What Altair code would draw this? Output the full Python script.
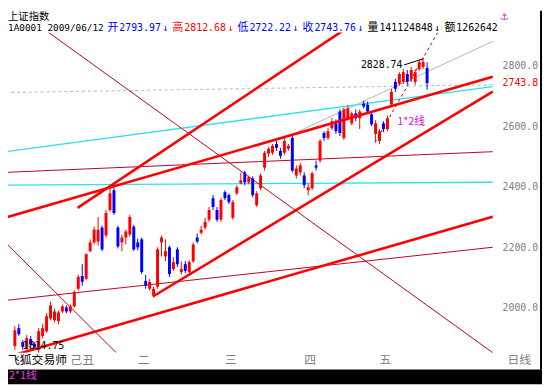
import altair as alt
import pandas as pd

# ---------------- data ----------------
opens = [1876,1935,1889,1870,1899,1883,1863,1909,1925,1967,
         1961,1958,1990,2003,1990,2007,2065,2107,2098,2189,
         2218,2221,2267,2241,2325,2390,2267,2218,2234,2244,
         2270,2218,2228,2091,2065,2042,2072,2218,2172,2202,
         2130,2195,2120,2146,2120,2156,2234,2250,2267,2293,
         2364,2325,2293,2384,2374,2299,2380,2413,2449,2416,
         2429,2341,2397,2465,2511,2514,2543,2520,2514,2527,
         2563,2439,2449,2439,2390,2397,2472,2488,2579,2563,
         2595,2611,2650,2563,2628,2611,2644,2628,2676,2673,
         2641,2576,2553,2611,2592,2673,2748,2741,2748,2774,
         2758,2748,2790,2797,2793.97]
closes = [1928,1915,1873,1902,1880,1873,1925,1935,1974,2010,
          1990,1987,2007,1990,2007,2055,2104,2088,2179,2218,
          2260,2260,2195,2315,2380,2315,2205,2234,2254,2302,
          2195,2202,2120,2075,2088,2065,2195,2234,2189,2114,
          2153,2146,2130,2124,2153,2211,2221,2260,2286,2325,
          2335,2293,2358,2364,2351,2351,2400,2423,2416,2433,
          2374,2380,2439,2514,2527,2537,2530,2504,2553,2537,
          2455,2462,2472,2407,2400,2446,2465,2553,2563,2585,
          2618,2585,2579,2657,2660,2644,2628,2650,2667,2650,
          2608,2611,2585,2592,2628,2715,2725,2774,2780,2748,
          2787,2780,2813,2813,2743.76]
highs = [1941,1948,1896,1912,1909,1889,1935,1948,1984,2023,
         2000,1993,2013,2010,2013,2059,2111,2146,2182,2228,
         2270,2302,2273,2325,2397,2403,2273,2244,2260,2309,
         2276,2231,2234,2111,2098,2072,2202,2241,2228,2208,
         2169,2202,2156,2156,2159,2218,2247,2273,2299,2335,
         2374,2335,2364,2390,2380,2358,2407,2449,2455,2439,
         2436,2387,2446,2520,2533,2543,2553,2530,2563,2543,
         2569,2472,2481,2449,2413,2452,2488,2559,2585,2595,
         2628,2624,2657,2663,2670,2650,2657,2657,2686,2683,
         2650,2621,2592,2618,2637,2725,2758,2780,2790,2787,
         2797,2790,2820,2828.74,2812.68]
lows = [1863,1909,1863,1863,1870,1867,1854,1902,1919,1961,
        1954,1948,1984,1984,1984,2003,2059,2075,2094,2185,
        2211,2208,2189,2234,2319,2309,2198,2189,2211,2237,
        2189,2192,2114,2065,2059,2036,2065,2172,2156,2104,
        2124,2137,2111,2117,2114,2150,2215,2244,2260,2286,
        2325,2286,2286,2358,2345,2293,2374,2410,2407,2410,
        2367,2335,2390,2455,2501,2507,2520,2494,2507,2520,
        2449,2429,2439,2397,2374,2390,2455,2481,2553,2556,
        2589,2576,2569,2556,2621,2605,2618,2592,2660,2644,
        2602,2550,2543,2582,2585,2667,2715,2735,2741,2738,
        2748,2738,2784,2790,2722.22]

month_labels = ["己丑", "二", "三", "四", "五"]
month_start = [14, 31, 53, 73, 92]

y_ticks = [2000, 2200, 2400, 2600, 2800]

# drawn trend lines: (x1, y1, x2, y2) in (bar index, index value)
thick_red_lines = [(15.83, 2332.1, 82.81, 2917.5),
                   (-2.435, 2299.6, 120.56, 2764.6),
                   (34.83, 2039.4, 120.56, 2715.9),
                   (-2.435, 1837.7, 120.56, 2302.8)]
thin_red_lines = [(8.52, 2911.0, 120.56, 1854.0),
                  (-2.435, 2218.3, 25.57, 1854.0),
                  (-2.435, 2449.2, 120.56, 2517.5),
                  (-2.435, 2026.4, 120.56, 2202.0)]
cyan_lines = [(-2.435, 2406.9, 120.56, 2416.6),
              (-2.435, 2517.5, 120.56, 2732.1)]
blue_dash_lines = [(-2.435, 2712.6, 120.56, 2738.6)]
gray_lines = [(69.65, 2572.8, 120.56, 2881.7)]
dark_dash_lines = [(90.84, 2546.7, 106.67, 2911.0)]
leader_lines = [(98.15, 2803.7, 102.8, 2823.2)]

high_label = "2828.74"
low_label = "1814.75"
last_close = 2743.76

# ---------------- layout (page has an 8px margin) ----------------
M = 8            # page margin
TOP = 30         # page y of plot top
W, H = 497, 325  # plot area: page x 8..505, y 30..355
X_DOMAIN = [-0.487, 120.56]
Y_DOMAIN = [1854, 2911]
xs = alt.Scale(domain=X_DOMAIN, nice=False, zero=False)
ys = alt.Scale(domain=Y_DOMAIN, nice=False, zero=False)
MONO = "DejaVu Sans Mono"
CJK = "Noto Sans CJK SC"
dummy = pd.DataFrame({"a": [0]})

df = pd.DataFrame({"i": list(range(len(opens))), "open": opens, "high": highs,
                   "low": lows, "close": closes})
df["col"] = ["#ff0000" if c >= o else "#0000ff" for o, c in zip(opens, closes)]

base = alt.Chart(df).encode(x=alt.X("i:Q", scale=xs, axis=None),
                            color=alt.Color("col:N", scale=None))
wicks = base.mark_rule(strokeWidth=1).encode(
    y=alt.Y("low:Q", scale=ys, axis=None), y2="high:Q")
bodies = base.mark_bar(size=3).encode(
    y=alt.Y("open:Q", scale=ys, axis=None), y2="close:Q")


def seg_chart(lines, color, width, dash=None):
    rows = []
    for k, (x1, y1, x2, y2) in enumerate(lines):
        rows.append({"k": k, "x": x1, "y": y1})
        rows.append({"k": k, "x": x2, "y": y2})
    kw = dict(clip=True, color=color, strokeWidth=width)
    if dash:
        kw["strokeDash"] = dash
    return alt.Chart(pd.DataFrame(rows)).mark_line(**kw).encode(
        x=alt.X("x:Q", scale=xs, axis=None),
        y=alt.Y("y:Q", scale=ys, axis=None),
        detail="k:N")


def label(text, px, py, color="black", size=10, font=MONO, align="left"):
    # px, py: page coordinates
    return alt.Chart(dummy).mark_text(
        text=text, align=align, baseline="middle", color=color,
        fontSize=size, font=font).encode(x=alt.value(px - M), y=alt.value(py - TOP))


def box(x1, x2, y1, y2, color):
    return alt.Chart(dummy).mark_rect(color=color).encode(
        x=alt.value(x1 - M), x2=alt.value(x2 - M),
        y=alt.value(y1 - TOP), y2=alt.value(y2 - TOP))


layers = [
    seg_chart(blue_dash_lines, "#9db9e6", 1, [3, 3]),
    seg_chart(gray_lines, "#b4b4b4", 1),
    seg_chart(cyan_lines, "#2fe0ee", 1.3),
    seg_chart(thin_red_lines, "#c00020", 1),
    wicks, bodies,
    seg_chart(thick_red_lines, "#ff0000", 2.6),
    seg_chart(dark_dash_lines, "#a01010", 1, [3, 3]),
    seg_chart(leader_lines, "#000000", 1),
]

# right-hand price labels
layers.append(alt.Chart(pd.DataFrame({"v": y_ticks, "t": ["%.1f" % v for v in y_ticks]}))
              .mark_text(align="left", baseline="middle", fontSize=10, font=MONO, color="#808080")
              .encode(x=alt.value(510 - M), y=alt.Y("v:Q", scale=ys, axis=None), text="t:N"))
layers.append(alt.Chart(pd.DataFrame({"v": [last_close], "t": ["%.1f" % last_close]}))
              .mark_text(align="left", baseline="middle", fontSize=10, font=MONO, color="#ff0000")
              .encode(x=alt.value(510 - M), y=alt.Y("v:Q", scale=ys, axis=None), text="t:N"))

# header
BLUE, RED, BLACK = "#0000ff", "#ff0000", "#000000"
HY = 26
layers.append(label("上证指数", 8, 14, BLACK, 10.5, CJK))
layers.append(label("1A0001 2009/06/12", 8, HY, BLACK, 9.5, MONO))
header = [("开", 109, BLUE, CJK), ("2793.97", 121, BLUE, MONO), ("↓", 165, BLUE, MONO),
          ("高", 175, RED, CJK), ("2812.68", 187, RED, MONO), ("↓", 231, RED, MONO),
          ("低", 241, BLUE, CJK), ("2722.22", 253, BLUE, MONO), ("↓", 297, BLUE, MONO),
          ("收", 307, BLUE, CJK), ("2743.76", 319, BLUE, MONO), ("↓", 363, BLUE, MONO),
          ("量", 373, BLACK, CJK), ("141124848", 385, BLACK, MONO), ("↓", 441, BLACK, MONO),
          ("额", 451, BLACK, CJK), ("1262642", 463, BLACK, MONO)]
for t, px, c, f in header:
    layers.append(label(t, px, HY, c, 11 if f == CJK else 10, f))
layers.append(label("⚓", 512, 14, "#d020d0", 10, "DejaVu Sans", "center"))

# annotations
layers.append(alt.Chart(pd.DataFrame({"i": [103], "v": [2828.74], "t": [high_label]}))
              .mark_text(align="right", baseline="middle", dx=-21, dy=8, fontSize=10,
                         font=MONO, color=BLACK)
              .encode(x=alt.X("i:Q", scale=xs, axis=None),
                      y=alt.Y("v:Q", scale=ys, axis=None), text="t:N"))
layers.append(label(low_label, 23, 348, BLACK, 10, MONO))
layers.append(label("1*2线", 403, 121, "#d020d0", 11, CJK))

# bottom labels
layers.append(label("飞狐交易师", 8, 363, BLACK, 12, CJK))
layers.append(alt.Chart(pd.DataFrame({"lab": month_labels, "i": month_start}))
              .mark_text(align="left", baseline="middle", color="#808080", fontSize=12, font=CJK)
              .encode(x=alt.X("i:Q", scale=xs, axis=None), y=alt.value(363 - TOP), text="lab:N"))
layers.append(label("日线", 515, 363, "#808080", 12, CJK))

# frame pieces
layers.append(box(8, 550, 372, 387, "#000000"))
layers.append(box(548, 550, 8, 372, "#000000"))
layers.append(label("2*1线", 9, 379, "#e040e0", 11, CJK))

chart = alt.layer(*layers).properties(
    width=W, height=H,
    autosize=alt.AutoSizeParams(type="none"),
    padding={"left": 0, "top": TOP - M, "right": 45, "bottom": 32},
    background="white",
).configure_view(stroke=None)

chart.save("out.html", embed_options={"renderer": "svg", "actions": False})
